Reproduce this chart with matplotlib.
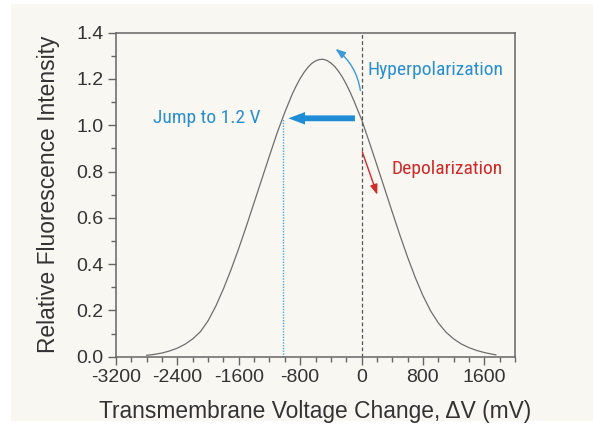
import matplotlib.pyplot as plt
from matplotlib.patches import FancyArrowPatch, Rectangle
from matplotlib.ticker import MultipleLocator

# voltage change (mV) and relative fluorescence
dv = [-2800, -2700, -2600, -2500, -2400, -2300, -2200, -2100, -2000, -1900,
      -1800, -1700, -1600, -1500, -1400, -1300, -1200, -1100, -1000, -900,
      -850, -800, -750, -700, -650, -600, -550, -500, -450, -400,
      -350, -300, -250, -200, -150, -100, 0, 100,
      200, 300, 400, 500, 600, 700, 800, 900, 1000, 1100,
      1200, 1300, 1400, 1500, 1600, 1700, 1750]
intensity = [0.006, 0.010, 0.016, 0.025, 0.037, 0.054, 0.077, 0.108, 0.155, 0.218,
             0.293, 0.377, 0.468, 0.565, 0.666, 0.767, 0.868, 0.967, 1.056, 1.137,
             1.171, 1.202, 1.228, 1.250, 1.267, 1.278, 1.284, 1.285, 1.280, 1.269,
             1.254, 1.233, 1.208, 1.178, 1.144, 1.106, 1.025, 0.928,
             0.828, 0.727, 0.625, 0.525, 0.430, 0.342, 0.264, 0.198, 0.146, 0.106,
             0.077, 0.055, 0.039, 0.027, 0.018, 0.011, 0.008]

resting_v = 0
jump_v = -1030
jump_level = 1.03

blue = "#1f8dd6"
red = "#d02a2a"
narrow = ["Liberation Sans Narrow", "Roboto Condensed", "Open Sans Condensed",
          "Noto Sans Condensed", "Liberation Sans", "DejaVu Sans"]

plt.rcParams["font.family"] = ["Liberation Sans", "DejaVu Sans"]

fig = plt.figure(figsize=(5.93, 4.25), dpi=100, facecolor="white")
fig.patches.append(Rectangle((11 / 593, 4 / 425), 1, 1 - 8 / 425,
                             transform=fig.transFigure, facecolor="#f9f7f1",
                             edgecolor="none", zorder=-10))
ax = fig.add_axes([0.1956, 0.1607, 0.6729, 0.7624])
ax.set_facecolor("#f9f7f1")

ax.plot(dv, intensity, color="#6e6e6e", lw=0.9)

# resting potential and the jump target
ax.plot([resting_v, resting_v], [0, 1.4], color="#555555", lw=0.9,
        dashes=(3, 2))
ax.plot([jump_v, jump_v], [0, jump_level], color="#4aa8e0", lw=1.0,
        dashes=(1, 1))

ax.add_patch(FancyArrowPatch((-50, jump_level), (-990, jump_level),
                             arrowstyle="simple,head_length=1.2,head_width=0.9,tail_width=0.42",
                             mutation_scale=10, color=blue, lw=0))
ax.add_patch(FancyArrowPatch((-15, 1.15), (-340, 1.33),
                             connectionstyle="arc3,rad=0.2",
                             arrowstyle="-|>,head_length=6,head_width=2.2",
                             color="#3d9ad8", lw=1.0, shrinkA=0, shrinkB=0))
ax.add_patch(FancyArrowPatch((10, 0.885), (205, 0.70),
                             arrowstyle="-|>,head_length=6,head_width=2.2",
                             color=red, lw=1.0, shrinkA=0, shrinkB=0))

ax.text(965, 1.24, "Hyperpolarization", color="#2a8fd0", fontsize=14,
        family=narrow, ha="center", va="center")
ax.text(1120, 0.81, "Depolarization", color=red, fontsize=14,
        family=narrow, ha="center", va="center")
ax.text(-2015, 1.03, "Jump to 1.2 V", color="#2a8fd0", fontsize=14,
        family=narrow, ha="center", va="center")

ax.set_xlim(-3200, 2000)
ax.set_ylim(0, 1.4)
ax.xaxis.set_major_locator(MultipleLocator(800))
ax.xaxis.set_minor_locator(MultipleLocator(200))
ax.yaxis.set_major_locator(MultipleLocator(0.2))
ax.yaxis.set_minor_locator(MultipleLocator(0.1))
ax.xaxis.set_major_formatter(plt.FuncFormatter(lambda v, p: f"{v:.0f}"))
ax.yaxis.set_major_formatter(plt.FuncFormatter(lambda v, p: f"{v:.1f}"))

for s in ax.spines.values():
    s.set_color("#666666")
    s.set_linewidth(1.1)
ax.tick_params(which="major", length=6, width=1.0, color="#666666",
               labelsize=14, labelcolor="#333333", pad=3)
ax.tick_params(which="minor", length=3.5, width=1.0, color="#666666")

ax.set_xlabel("Transmembrane Voltage Change, \u0394V (mV)", fontsize=16.4,
              color="#333333", labelpad=10)
ax.set_ylabel("Relative Fluorescence Intensity", fontsize=16.4,
              color="#333333", labelpad=12)

plt.savefig("out.png", dpi=100, facecolor=fig.get_facecolor())
